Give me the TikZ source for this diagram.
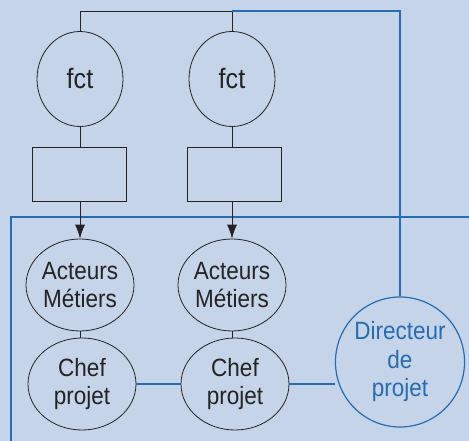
\documentclass[tikz,border=0pt]{standalone}
\usepackage{fontspec}
\setmainfont{Liberation Sans}[FakeStretch=0.9]
\usepackage{tikz}
\usetikzlibrary{positioning,arrows.meta,shapes.geometric}
\definecolor{bgblue}{RGB}{198,212,233}
\definecolor{lineblue}{RGB}{38,108,178}
\definecolor{ink}{RGB}{35,35,35}
\tikzset{
    fctnode/.style = {
        draw=ink,
        shape=ellipse,
        minimum width=86pt,
        minimum height=95pt,
        inner sep=0pt,
        line width=0.8pt,
        font=\fontsize{28}{30}\selectfont
    },
    box/.style = {
        draw=ink,
        shape=rectangle,
        minimum width=94pt,
        minimum height=54pt,
        line width=0.8pt
    },
    actor/.style = {
        draw=ink,
        shape=ellipse,
        minimum width=108pt,
        minimum height=92pt,
        inner sep=0pt,
        align=center,
        line width=0.8pt,
        font=\fontsize{25}{28}\selectfont
    },
    director/.style = {
        draw=lineblue,
        text=lineblue,
        shape=ellipse,
        minimum width=122pt,
        minimum height=130pt,
        inner sep=0pt,
        align=center,
        line width=1.2pt,
        font=\fontsize{25}{28.5}\selectfont
    },
    >={Latex[length=14pt,width=10pt]},
}
\begin{document}
\begin{tikzpicture}[x=1pt,y=-1pt]
                \useasboundingbox[fill=bgblue] (0,0) rectangle (469,441);

                \node[fctnode,text=ink] (fct1) at (80,79) {fct};
                \node[fctnode,text=ink] (fct2) at (232,79) {fct};
                \node[box] (box1) at (79,174) {};
                \node[box] (box2) at (234,174) {};
                \node[actor,text=ink] (act1) at (80,285) {Acteurs\\Métiers};
                \node[actor,text=ink] (act2) at (232,285) {Acteurs\\Métiers};
                \node[actor,text=ink] (chef1) at (82,384) {Chef\\projet};
                \node[actor,text=ink] (chef2) at (235,384) {Chef\\projet};
                \node[director] (dir) at (400,362) {Directeur\\de\\projet};

                \coordinate (topmid) at (232,11);
                \coordinate (frameright) at (469,217);
                \coordinate (framecorner) at (11,217);
                \coordinate (framebottom) at (11,441);

                % frame
                \path[draw, line width=1.2pt, color=lineblue] (frameright) -- (framecorner) -- (framebottom);

                \path[draw, line width=0.9pt, color=ink] (fct1.north) |- (topmid) -- (fct2.north);
                \path[draw, line width=1.2pt, color=lineblue] (topmid) -| (dir.north);
                \path[draw, line width=0.9pt, color=ink] (fct1) -- (box1.north -| fct1);
                \path[draw, line width=0.9pt, color=ink] (fct2) -- (box2.north -| fct2);
                \path[draw, line width=0.9pt, color=ink, ->] (box1.south -| act1) -- (act1);
                \path[draw, line width=0.9pt, color=ink, ->] (box2.south -| act2) -- (act2);
                \path[draw, line width=0.6pt, color=ink] (act1) -- (chef1.north -| act1);
                \path[draw, line width=0.6pt, color=ink] (act2) -- (chef2.north -| act2);
                \path[draw, line width=1.2pt, color=lineblue] (chef1) -- (chef2);
                \path[draw, line width=1.2pt, color=lineblue] (chef2) -- (dir.west |- chef2);
            \end{tikzpicture}
\end{document}
